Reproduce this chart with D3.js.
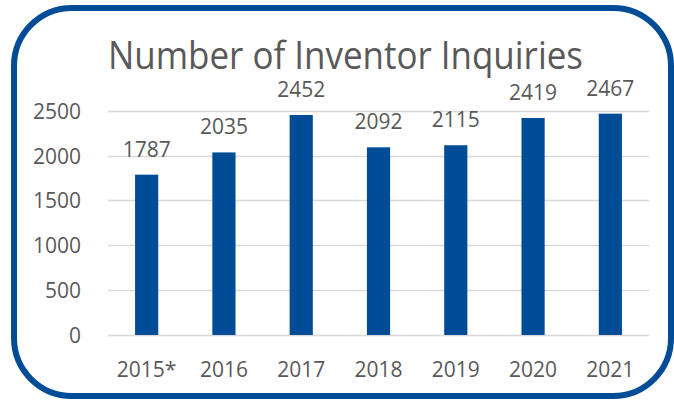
<!DOCTYPE html>
<html>
<head>
<meta charset="utf-8">
<script src="https://cdn.jsdelivr.net/npm/d3@7"></script>
<style>
  body { margin: 0; background: #fff; }
  text { font-family: "Open Sans", "Noto Sans", sans-serif; fill: #595959; }
</style>
</head>
<body>
<svg width="674" height="402"></svg>
<script>
// chart data
var years = ["2015*", "2016", "2017", "2018", "2019", "2020", "2021"];
var inquiries = [1787, 2035, 2452, 2092, 2115, 2419, 2467];
var yTicks = [0, 500, 1000, 1500, 2000, 2500];

var blue = "#004c97";
var svg = d3.select("svg");

// rounded frame
svg.append("rect")
  .attr("x", 14).attr("y", 8)
  .attr("width", 657).attr("height", 388)
  .attr("rx", 58).attr("ry", 58)
  .attr("fill", "#fff")
  .attr("stroke", blue)
  .attr("stroke-width", 6);

var x = d3.scaleBand()
  .domain(years)
  .range([108, 649])
  .paddingInner(0.7)
  .paddingOuter(0.35);

var y = d3.scaleLinear()
  .domain([0, 2500])
  .range([335, 110.7]);

// gridlines
svg.append("g").selectAll("line")
  .data(yTicks)
  .enter().append("line")
  .attr("x1", 108).attr("x2", 649)
  .attr("y1", function(d) { return Math.round(y(d)) + 0.5; })
  .attr("y2", function(d) { return Math.round(y(d)) + 0.5; })
  .attr("stroke", "#d9d9d9")
  .attr("stroke-width", 1.5);

// y tick labels
svg.append("g").selectAll("text")
  .data(yTicks)
  .enter().append("text")
  .attr("x", 81)
  .attr("y", function(d) { return y(d) + 8; })
  .attr("text-anchor", "end")
  .attr("font-size", 21)
  .text(function(d) { return d; });

// bars
svg.append("g").selectAll("rect")
  .data(inquiries)
  .enter().append("rect")
  .attr("x", function(d, i) { return x(years[i]); })
  .attr("y", function(d) { return y(d); })
  .attr("width", x.bandwidth())
  .attr("height", function(d) { return y(0) - y(d); })
  .attr("fill", blue);

// value labels
svg.append("g").selectAll("text")
  .data(inquiries)
  .enter().append("text")
  .attr("x", function(d, i) { return x(years[i]) + x.bandwidth() / 2; })
  .attr("y", function(d) { return y(d) - 18; })
  .attr("text-anchor", "middle")
  .attr("font-size", 21)
  .text(function(d) { return d; });

// x labels
svg.append("g").selectAll("text")
  .data(years)
  .enter().append("text")
  .attr("x", function(d) { return x(d) + x.bandwidth() / 2; })
  .attr("y", 377)
  .attr("text-anchor", "middle")
  .attr("font-size", 21)
  .text(function(d) { return d; });

// title
svg.append("text")
  .attr("x", 108)
  .attr("y", 69)
  .attr("font-size", 38)
  .attr("textLength", 475)
  .attr("lengthAdjust", "spacingAndGlyphs")
  .text("Number of Inventor Inquiries");
</script>
</body>
</html>
